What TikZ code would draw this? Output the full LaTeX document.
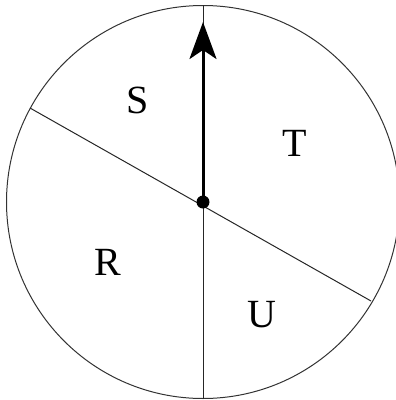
\documentclass[tikz,border=0pt]{standalone}
\usepackage{fontspec}
\setmainfont{Liberation Serif}
\usetikzlibrary{arrows.meta}

\begin{document}
\begin{tikzpicture}[x=1pt,y=-1pt,every node/.style={font=\fontsize{40}{40}\selectfont,inner sep=0pt},rim/.style={draw=black!80,line width=1pt},spoke/.style={draw=black!85,line width=1pt}]
\useasboundingbox (0,0) rectangle (396,400);
\coordinate (o) at (203,202);
\coordinate (top) at (203,5);
\coordinate (bot) at (203,399);
\coordinate (ul) at (30,108);
\coordinate (lr) at (371,301);
\coordinate (tip) at (203,22);
\draw[rim] (o) circle (196.5);
\draw[spoke] (o) -- (top);
\draw[spoke] (o) -- (bot);
\draw[spoke] (ul) -- (lr);
\draw[-{Stealth[length=37pt,width=27pt,inset=9pt]},line width=3pt] (o) -- (tip);
\fill (o) circle (6.5);
\node (s) at (138,100) {S};
\node (t) at (295,143) {T};
\node (r) at (108,262) {R};
\node (u) at (262,315) {U};
\end{tikzpicture}
\end{document}
